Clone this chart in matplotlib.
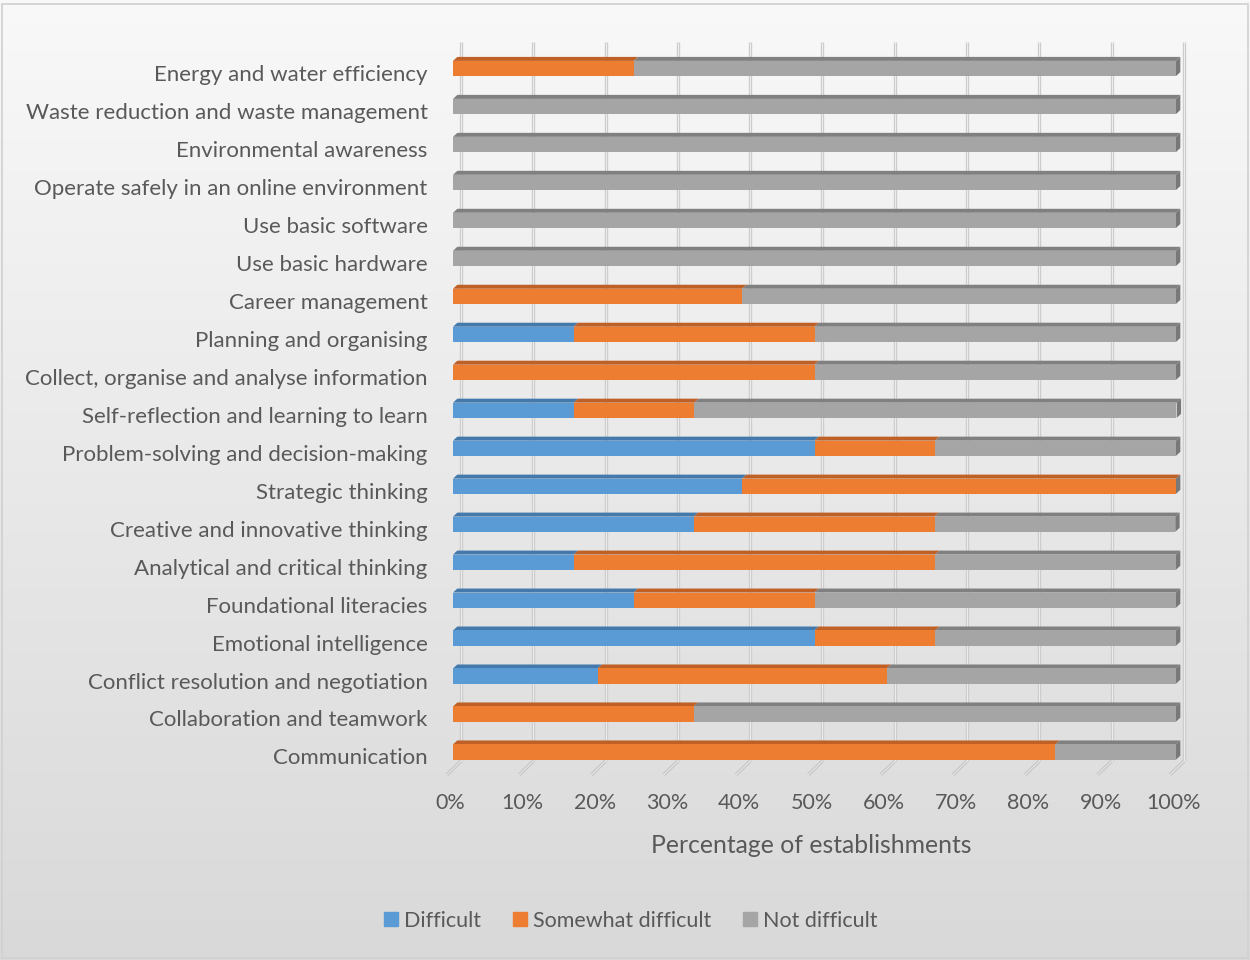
import numpy as np
import matplotlib.pyplot as plt
from matplotlib.patches import Polygon, Rectangle
from matplotlib.lines import Line2D

plt.rcParams['font.family'] = ['Lato', 'DejaVu Sans']

skills = [
    "Communication",
    "Collaboration and teamwork",
    "Conflict resolution and negotiation",
    "Emotional intelligence",
    "Foundational literacies",
    "Analytical and critical thinking",
    "Creative and innovative thinking",
    "Strategic thinking",
    "Problem-solving and decision-making",
    "Self-reflection and learning to learn",
    "Collect, organise and analyse information",
    "Planning and organising",
    "Career management",
    "Use basic hardware",
    "Use basic software",
    "Operate safely in an online environment",
    "Environmental awareness",
    "Waste reduction and waste management",
    "Energy and water efficiency",
]
difficult = [0, 0, 20, 50, 25, 16.7, 33.3, 40, 50, 16.7, 0, 16.7, 0, 0, 0, 0, 0, 0, 0]
somewhat = [83.3, 33.3, 40, 16.7, 25, 50, 33.3, 60, 16.7, 16.7, 50, 33.3, 40, 0, 0, 0, 0, 0, 25]
not_difficult = [16.7, 66.7, 40, 33.3, 50, 33.3, 33.3, 0, 33.3, 66.7, 50, 50, 60,
                 100, 100, 100, 100, 100, 75]
series_names = ["Difficult", "Somewhat difficult", "Not difficult"]
ticks = [0, 10, 20, 30, 40, 50, 60, 70, 80, 90, 100]

front_cols = ['#5b9bd5', '#ed7d31', '#a5a5a5']
top_cols = ['#4379ab', '#bf6027', '#808080']
side_col = '#787878'
text_col = '#595959'

fig = plt.figure(figsize=(12.5, 9.6), dpi=100)

# soft vertical gradient behind everything
bg = fig.add_axes([0, 0, 1, 1], zorder=-10)
grad = np.linspace(0.975, 0.85, 256).reshape(-1, 1)
bg.imshow(np.dstack([grad, grad, grad]), aspect='auto', extent=[0, 1, 0, 1])
bg.set_axis_off()
fig.patches.append(Rectangle((0.0015, 0.002), 0.997, 0.994, transform=fig.transFigure,
                             fill=False, ec='#d0d0d0', lw=1.2))

ax = fig.add_axes([453 / 1250, 1 - 771 / 960, 723 / 1250, (771 - 49.5) / 960])
ax.set_xlim(0, 100)
ax.set_ylim(-0.5, 18.5)
ax.set_axis_off()
ax.patch.set_alpha(0)

# back wall gridlines and floor ticks
back = 1.1
for v in ticks:
    xb = v + back
    ax.plot([xb, xb], [-0.24, 18.7], color='#cccccc', lw=2.4, zorder=1, clip_on=False,
            solid_capstyle='butt')
    ax.plot([xb, xb], [-0.24, 18.7], color='#ececec', lw=0.8, zorder=1, clip_on=False)
    ax.plot([xb, v - 0.85], [-0.24, -0.6], color='#c4c4c4', lw=2.4, zorder=1, clip_on=False,
            solid_capstyle='butt')
    ax.plot([xb, v - 0.85], [-0.24, -0.6], color='#e4e4e4', lw=0.9, zorder=1, clip_on=False)

# bars with a shallow 3D top and end face
h = 0.4
dx, dy = 0.6, 0.105
data = np.array([difficult, somewhat, not_difficult])
for i in range(len(skills)):
    left = 0
    yb, yt = i - h / 2, i + h / 2
    for s in range(3):
        w = data[s, i]
        if w <= 0:
            continue
        ax.add_patch(Polygon([(left, yt), (left + w, yt), (left + w + dx, yt + dy),
                              (left + dx, yt + dy)], closed=True, fc=top_cols[s],
                             ec='none', zorder=3, clip_on=False))
        ax.barh(i, w, left=left, height=h, color=front_cols[s], zorder=4)
        left += w
    ax.add_patch(Polygon([(left, yb), (left + dx, yb + dy), (left + dx, yt + dy),
                          (left, yt)], closed=True, fc=side_col, ec='none', zorder=4,
                         clip_on=False))
    ax.text(-3.5, i - 0.17, skills[i], ha='right', va='center', fontsize=16,
            color=text_col)

for v in ticks:
    ax.text(v - 0.4, -1.34, f"{v}%", ha='center', va='center', fontsize=15.5,
            color=text_col, clip_on=False)
ax.text(49.5, -2.45, "Percentage of establishments", ha='center', va='center',
        fontsize=17.8, color=text_col)

handles = [Line2D([], [], marker='s', linestyle='', markersize=10.5, color=c)
           for c in front_cols]
fig.legend(handles, series_names, loc='center', bbox_to_anchor=(630 / 1250, 1 - 921 / 960),
           ncol=3, frameon=False, fontsize=15.5, handletextpad=0.2, columnspacing=1.4,
           labelcolor=text_col, handlelength=0.8)

fig.savefig('out.png', dpi=100)
